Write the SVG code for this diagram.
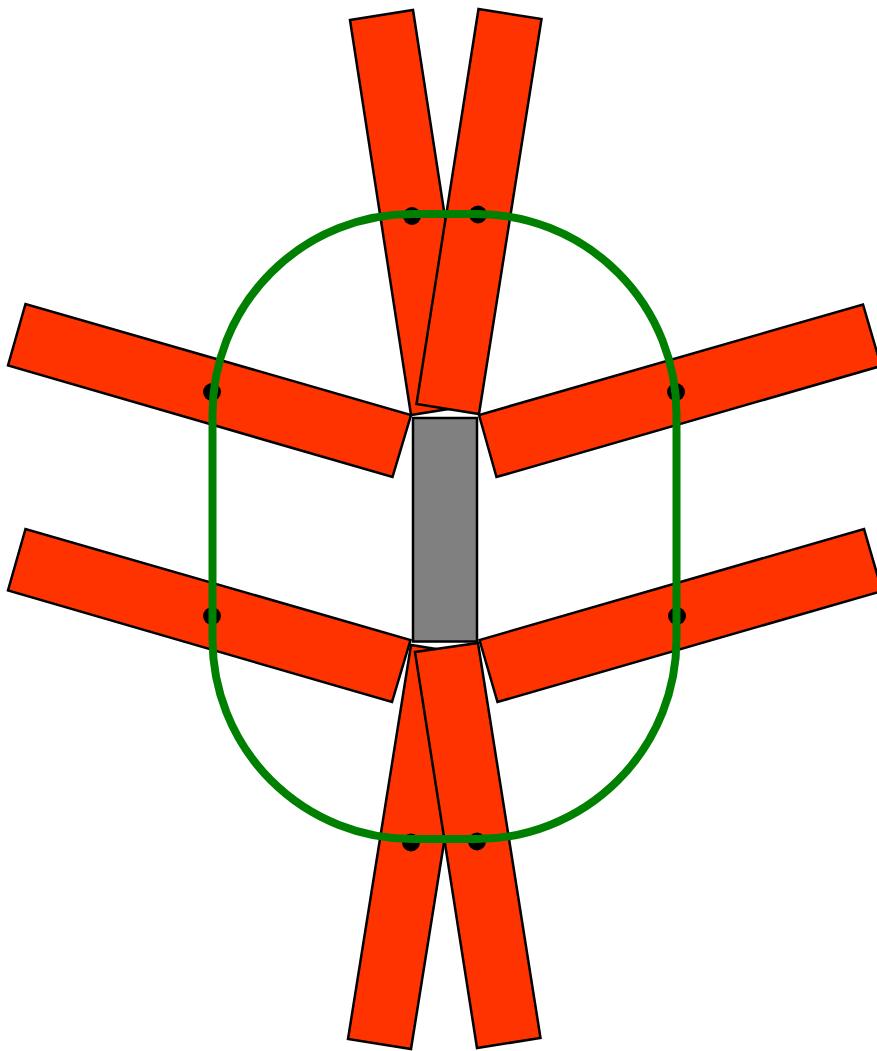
<svg xmlns="http://www.w3.org/2000/svg" width="877" height="1051" viewBox="0 0 877 1051">
<style>
.rod{fill:#ff3300;stroke:#000;stroke-width:2.5;stroke-linejoin:miter}
.dot{fill:#000}
.body{fill:#808080;stroke:#000;stroke-width:2.5}
.loop{fill:none;stroke:#008000;stroke-width:8}
</style>
<rect width="877" height="1051" fill="#fff"/>
<g id="body"><rect class="body" x="413" y="418" width="64" height="223.5"/></g>
<g id="arm-upper-left"><polygon class="rod" points="25.5,304 8,365.5 392.5,477 411,415"/></g>
<g id="arm-upper-right"><polygon class="rod" points="479,415 496.5,477 881,366 863,304.5"/></g>
<g id="arm-lower-left"><polygon class="rod" points="25.5,529 8,590.5 392,702 410.5,640"/></g>
<g id="arm-lower-right"><polygon class="rod" points="479.5,640 497.5,702 882,591 864,529"/></g>
<g id="rod-top-left"><polygon class="rod" points="350,20 413,10 474,405 411,415"/></g>
<g id="rod-top-right"><polygon class="rod" points="478.5,9 541.5,19 479,414 416.5,404"/></g>
<g id="rod-bottom-left"><polygon class="rod" points="411,645 348,1039 411,1049 474,655"/></g>
<g id="rod-bottom-right"><polygon class="rod" points="415,652 478,643 540.5,1038 477,1048"/></g>
<g id="pins">
<circle class="dot" cx="412" cy="216" r="9"/>
<circle class="dot" cx="478" cy="214.500" r="9"/>
<circle class="dot" cx="212" cy="392" r="9"/>
<circle class="dot" cx="676" cy="392" r="9"/>
<circle class="dot" cx="212" cy="616" r="9"/>
<circle class="dot" cx="677" cy="616" r="9"/>
<circle class="dot" cx="411" cy="842.500" r="9"/>
<circle class="dot" cx="477" cy="841.500" r="9"/>
</g>
<g id="loop"><rect class="loop" x="212.500" y="214" width="464" height="625" rx="200" ry="200"/></g>
</svg>
